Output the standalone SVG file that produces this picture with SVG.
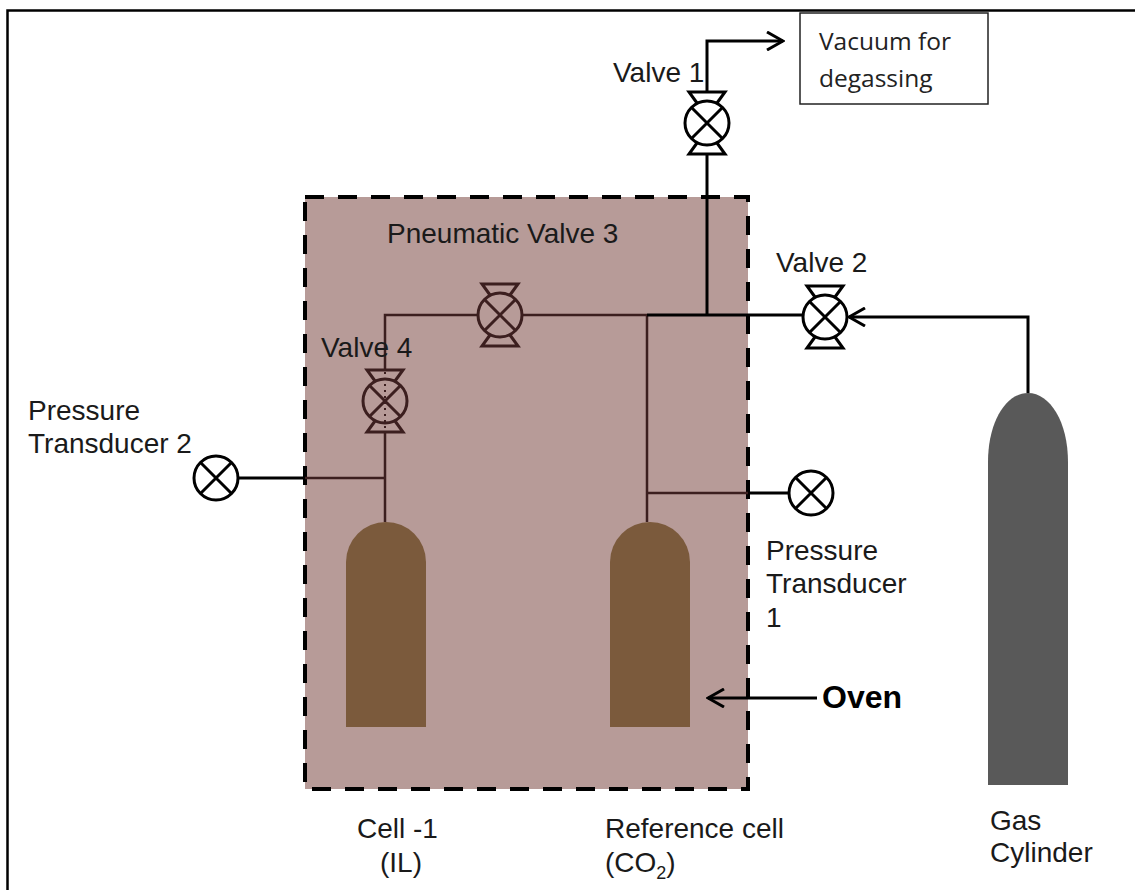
<svg xmlns="http://www.w3.org/2000/svg" xmlns:xlink="http://www.w3.org/1999/xlink" width="1135" height="890" viewBox="0 0 1135 890">
  <style>
    .lbl { font-family: "Liberation Sans", Arial, sans-serif; font-size: 28px; fill: #1a1a1a; }
    .bold { font-family: "Liberation Sans", Arial, sans-serif; font-size: 32px; font-weight: bold; fill: #000; }
    .note { font-family: "Open Sans", "Noto Sans", sans-serif; font-size: 24.5px; fill: #222; }
    .pipe { fill: none; stroke: #000; stroke-width: 3; }
    .pipe-in { fill: none; stroke: #3c1f1f; stroke-width: 2.5; }
    .sym { fill: none; stroke: currentColor; stroke-width: 3; }
    .cell { fill: #7b5a3c; }
  </style>
  <defs>
    <!-- valve: crossed circle with hourglass caps, centred on 0,0 -->
    <g id="valve">
      <circle class="sym" r="22"/>
      <path class="sym" d="M-15.5,-15.5 L15.5,15.5 M-15.5,15.5 L15.5,-15.5"/>
      <path class="sym" d="M-10,-20 L-18,-31 H18 L10,-20"/>
      <path class="sym" d="M-10,20 L-18,31 H18 L10,20"/>
    </g>
    <!-- pressure transducer: crossed circle -->
    <g id="gauge">
      <circle class="sym" r="22"/>
      <path class="sym" d="M-15.5,-15.5 L15.5,15.5 M-15.5,15.5 L15.5,-15.5"/>
    </g>
    <marker id="chev" viewBox="0 0 20 20" refX="18" refY="10" markerWidth="20" markerHeight="20" markerUnits="userSpaceOnUse" orient="auto">
      <path d="M2,1 L18,10 L2,19" fill="none" stroke="#000" stroke-width="3"/>
    </marker>
  </defs>

  <rect width="1135" height="890" fill="#fff"/>
  <!-- frame -->
  <path d="M7.5,890 V10.5 H1135" fill="none" stroke="#000" stroke-width="2.5"/>

  <!-- oven enclosure -->
  <g id="oven">
    <rect x="305" y="197" width="443" height="592" fill="#b79b98" stroke="#000" stroke-width="4" stroke-dasharray="19 14"/>
  </g>

  <!-- piping -->
  <g id="connectors">
    <!-- inside the oven -->
    <path class="pipe-in" d="M385,369 V315 H478"/>
    <path class="pipe-in" d="M522,315 H647"/>
    <path class="pipe-in" d="M647,315 V522"/>
    <path class="pipe-in" d="M385,432 V522"/>
    <path class="pipe-in" d="M305,478 H385"/>
    <path class="pipe-in" d="M647,493 H748"/>
    <!-- outside / on top -->
    <path class="pipe" d="M647,315 H803"/>
    <path class="pipe" d="M707,155 V315"/>
    <path class="pipe" d="M707,92 V41 H783" marker-end="url(#chev)"/>
    <path class="pipe" d="M1028,393 V317 H849" marker-end="url(#chev)"/>
    <path class="pipe" d="M238,478 H305"/>
    <path class="pipe" d="M748,493 H789"/>
    <path class="pipe" d="M817,698 H708" marker-end="url(#chev)"/>
  </g>

  <g id="valve-1">
    <use xlink:href="#valve" transform="translate(707,123)" style="color:#000"/>
    <text class="lbl" x="613" y="82">Valve 1</text>
  </g>

  <g id="vacuum">
    <rect x="800" y="13" width="188" height="91" fill="#fff" stroke="#222" stroke-width="1.5"/>
    <text class="note" x="819" y="50">Vacuum for</text>
    <text class="note" x="819" y="87">degassing</text>
  </g>

  <g id="valve-2">
    <use xlink:href="#valve" transform="translate(825,317)" style="color:#000"/>
    <text class="lbl" x="776" y="272">Valve 2</text>
  </g>

  <g id="valve-3">
    <use xlink:href="#valve" transform="translate(500,315)" style="color:#3c1f1f"/>
    <text class="lbl" x="387" y="243">Pneumatic Valve 3</text>
  </g>

  <g id="valve-4">
    <use xlink:href="#valve" transform="translate(385,401)" style="color:#3c1f1f"/>
    <path d="M385,372 V430" stroke="#3c1f1f" stroke-width="2" stroke-dasharray="2 4"/>
    <text class="lbl" x="321" y="357">Valve 4</text>
  </g>

  <g id="transducer-2">
    <use xlink:href="#gauge" transform="translate(216,478)" style="color:#000"/>
    <text class="lbl" x="28" y="420">Pressure</text>
    <text class="lbl" x="28" y="453">Transducer 2</text>
  </g>

  <g id="transducer-1">
    <use xlink:href="#gauge" transform="translate(811,493)" style="color:#000"/>
    <text class="lbl" x="766" y="560">Pressure</text>
    <text class="lbl" x="766" y="593">Transducer</text>
    <text class="lbl" x="766" y="627">1</text>
  </g>

  <g id="cell-1">
    <path class="cell" d="M346,727 V562 A40,40 0 0 1 426,562 V727 Z"/>
    <text class="lbl" x="357" y="838">Cell -1</text>
    <text class="lbl" x="380" y="872">(IL)</text>
  </g>

  <g id="reference-cell">
    <path class="cell" d="M610,727 V562 A40,40 0 0 1 690,562 V727 Z"/>
    <text class="lbl" x="605" y="838">Reference cell</text>
    <text class="lbl" x="605" y="872">(CO<tspan font-size="18" dy="7">2</tspan><tspan dy="-7">)</tspan></text>
  </g>

  <g id="oven-label">
    <text class="bold" x="822" y="708">Oven</text>
  </g>

  <g id="gas-cylinder">
    <path d="M988,785 V462 C988,422 1006,393 1028,393 C1050,393 1068,422 1068,462 V785 Z" fill="#595959"/>
    <text class="lbl" x="990" y="830">Gas</text>
    <text class="lbl" x="990" y="862">Cylinder</text>
  </g>
</svg>
